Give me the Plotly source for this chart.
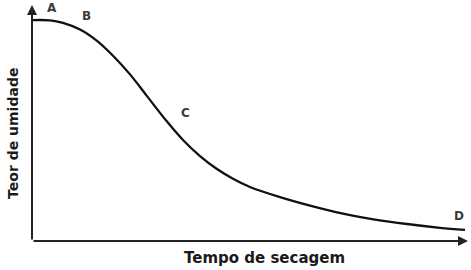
import plotly.graph_objects as go

# Curve (time, moisture content), arbitrary units
tempo = [0.023, 0.413, 0.711, 1.101, 1.491, 1.858, 2.248, 2.638, 3.096, 3.463, 3.853,
         4.243, 4.610, 5.000, 5.688, 6.376, 7.133, 7.867, 8.601, 9.358, 9.931]
umidade = [0.936, 0.935, 0.924, 0.896, 0.848, 0.785, 0.706, 0.614, 0.506, 0.428, 0.360,
           0.305, 0.264, 0.229, 0.186, 0.150, 0.116, 0.091, 0.072, 0.056, 0.047]

point_labels = ["A", "B", "C", "D"]
label_x = [0.47, 1.24, 3.51, 9.79]
label_y = [0.989, 0.953, 0.544, 0.106]

x_title = "Tempo de secagem"
y_title = "Teor de umidade"

FONT = "DejaVu Sans, Liberation Sans, Arial"

fig = go.Figure()
fig.add_trace(go.Scatter(x=tempo, y=umidade, mode="lines",
                         line=dict(color="#111111", width=2.3, shape="spline", smoothing=1.0),
                         cliponaxis=False, hoverinfo="skip"))

ann = []
# axes with arrows
ann.append(dict(x=0, y=1.0, ax=0, ay=0, xref="x", yref="y", axref="x", ayref="y",
                showarrow=True, arrowhead=2, arrowsize=1, arrowwidth=2, arrowcolor="#222222", text=""))
ann.append(dict(x=10.0, y=0, ax=0, ay=0, xref="x", yref="y", axref="x", ayref="y",
                showarrow=True, arrowhead=2, arrowsize=1, arrowwidth=2, arrowcolor="#222222", text=""))
for t, lx, ly in zip(point_labels, label_x, label_y):
    ann.append(dict(x=lx, y=ly, xref="x", yref="y", text="<b>" + t + "</b>", showarrow=False,
                    font=dict(family=FONT, size=12, color="#3a3a3a")))
ann.append(dict(x=0.534, y=-0.072, xref="paper", yref="paper", text="<b>" + x_title + "</b>",
                showarrow=False, xanchor="center", yanchor="middle",
                font=dict(family=FONT, size=15, color="#1a1a1a")))
ann.append(dict(x=-0.0436, y=0.458, xref="paper", yref="paper", text="<b>" + y_title + "</b>",
                showarrow=False, textangle=-90, xanchor="center", yanchor="middle",
                font=dict(family=FONT, size=14, color="#1a1a1a")))

fig.update_layout(
    width=471, height=270,
    margin=dict(l=32, r=3, t=5, b=29),
    paper_bgcolor="white", plot_bgcolor="white",
    showlegend=False,
    xaxis=dict(range=[0, 10], visible=False, fixedrange=True),
    yaxis=dict(range=[0, 1], visible=False, fixedrange=True),
    annotations=ann,
)
fig.write_html("out.html")
